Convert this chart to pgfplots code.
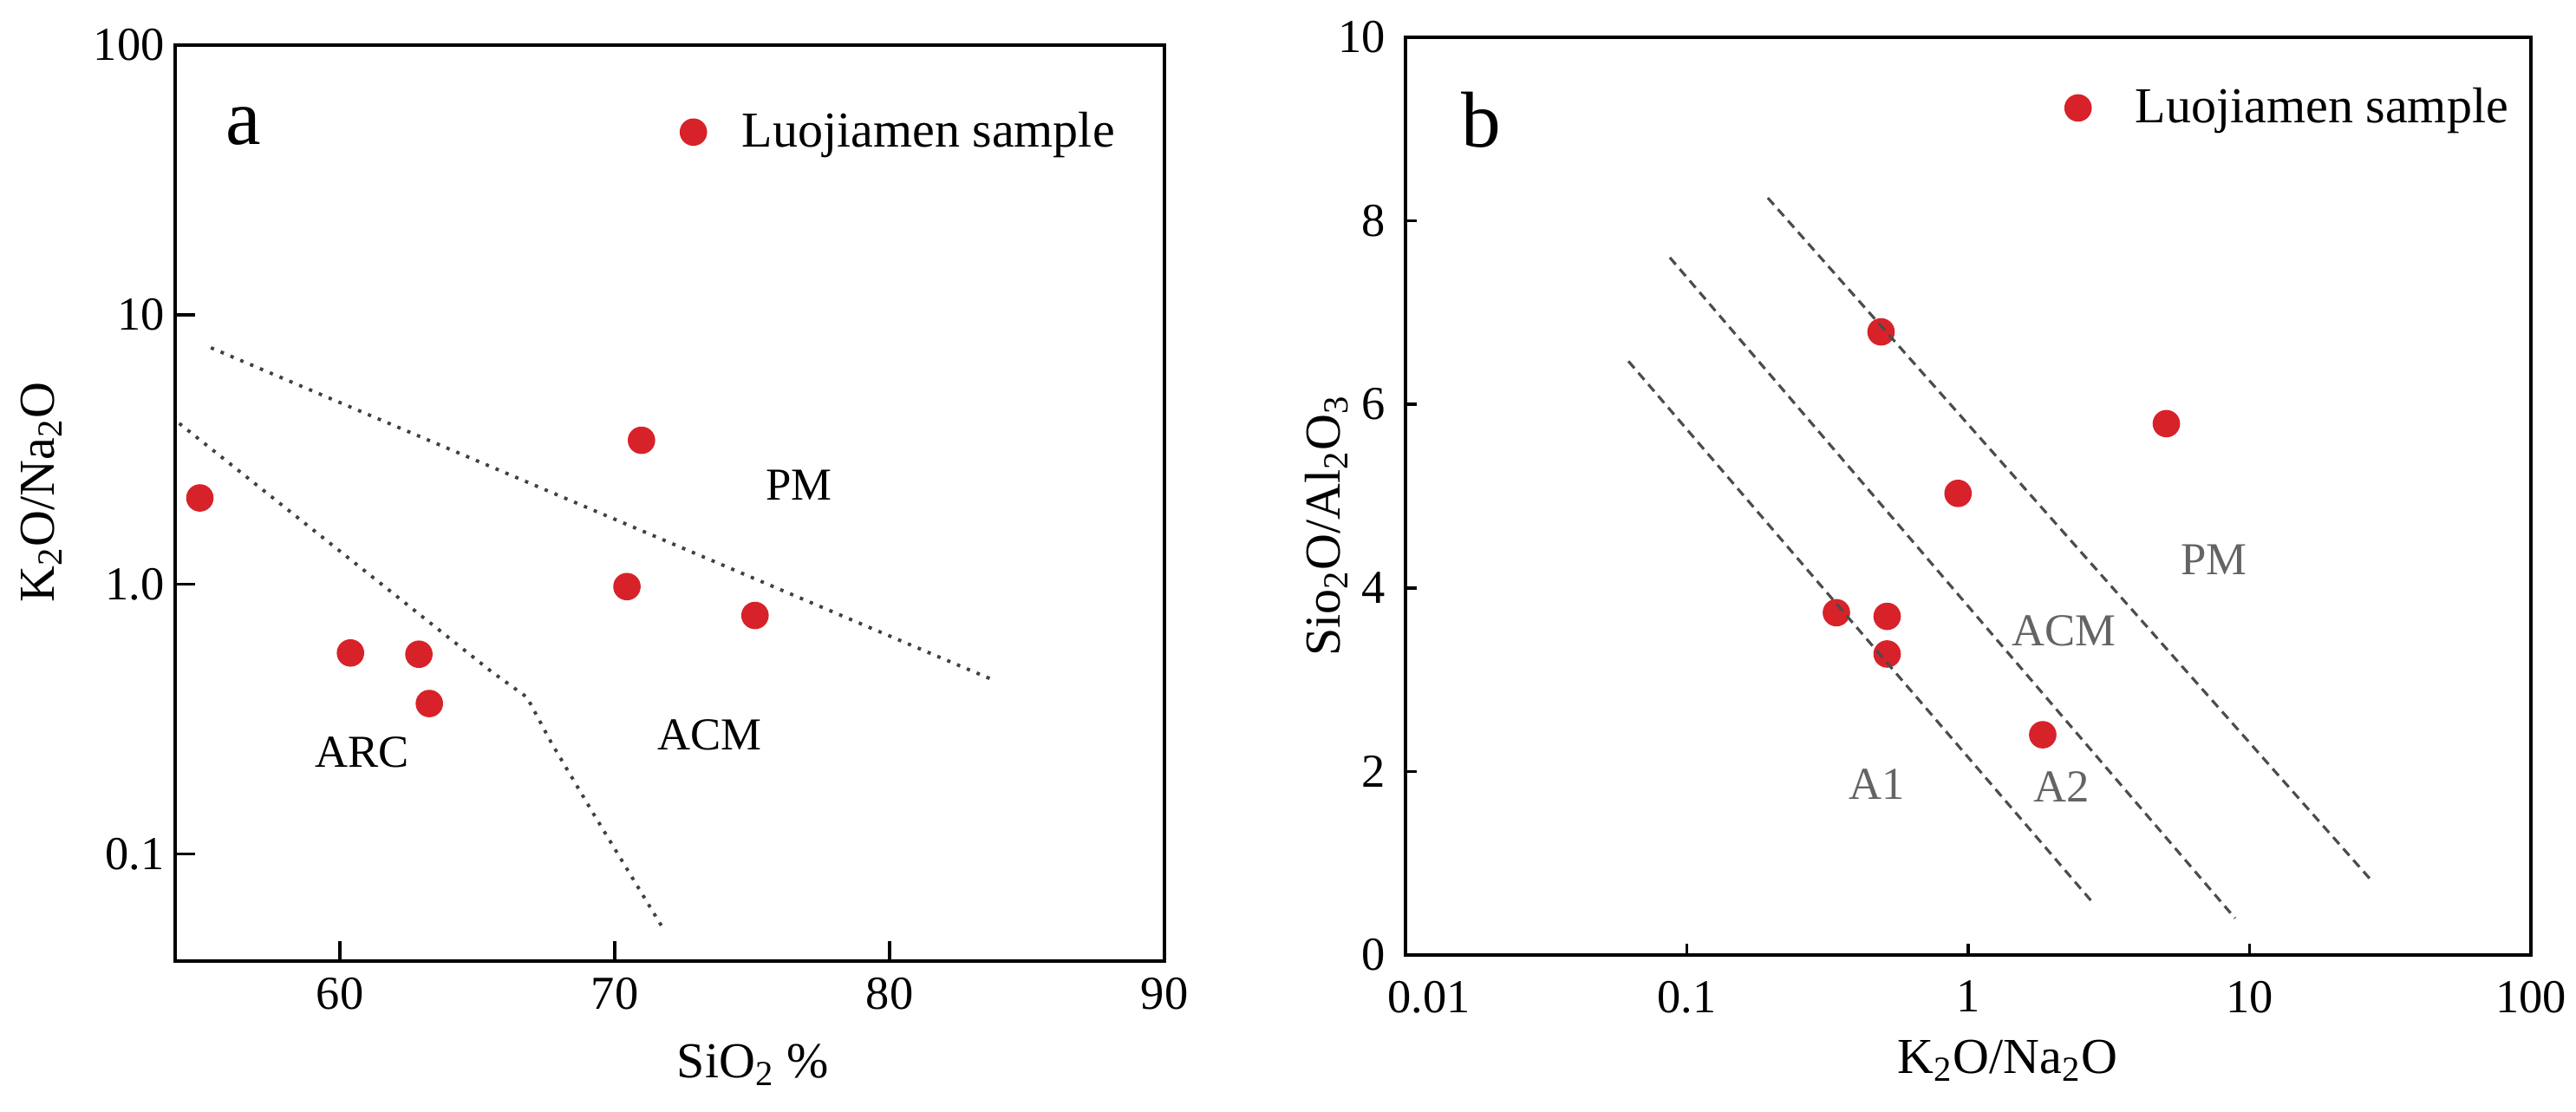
\documentclass[border=0pt]{standalone}
\usepackage{fontspec}
\setmainfont{Liberation Serif}
\usepackage{pgfplots}
\pgfplotsset{compat=1.18}

\definecolor{samplered}{RGB}{216,34,42}
\definecolor{zonegray}{RGB}{100,100,100}
\newcommand{\sub}[1]{\textsubscript{#1}}

\tikzset{zone/.style={font=\fontsize{15}{18}\selectfont}}

\pgfplotsset{
  panel/.style={
    scale only axis, clip mode=individual,
    axis line style={line width=1.2pt},
    tick style={line width=1pt, black},
    tick align=inside, xtick pos=bottom, ytick pos=left,
    xminorticks=false, yminorticks=false,
    tick label style={font=\fontsize{15.5}{18}\selectfont},
    label style={font=\fontsize{16.5}{20}\selectfont},
    /pgf/number format/assume math mode=true,
    legend style={draw=none, fill=none, inner sep=0pt,
      nodes={inner sep=0pt}, font=\fontsize{16.5}{20}\selectfont},
    legend image code/.code={\draw[##1] plot coordinates {(0cm,0cm)};},
  },
  sampmark/.style={only marks, mark=*, mark size=4.3pt,
    mark options={fill=samplered, draw=samplered}},
}

\begin{document}
\begin{tikzpicture}
\useasboundingbox (0,0) rectangle (29.71cm,12.82cm);

% (a) SiO2 vs K2O/Na2O
\begin{axis}[panel, at={(2.02cm,1.74cm)}, anchor=south west,
  width=11.41cm, height=10.56cm,
  xmin=54, xmax=90, ymode=log, ymin=0.04, ymax=100,
  xtick={60,70,80,90}, ytick={0.1,1,10,100}, yticklabels={0.1,1.0,10,100},
  major tick length=0.23cm,
  x tick label style={yshift=-2pt},
  xlabel={SiO\sub{2} \%}, ylabel={K\sub{2}O/Na\sub{2}O},
  xlabel style={at={(axis description cs:0.584,-0.113)}, anchor=center},
  ylabel style={at={(axis description cs:-0.135,0.512)}, anchor=center},
  legend style={at={(axis description cs:0.510,0.905)}, anchor=west, column sep=0.41cm},
]
\addplot[sampmark] coordinates {
  (54.9,2.09) (70.97,3.42) (70.44,0.98) (75.1,0.766)
  (60.38,0.556) (62.87,0.55) (63.25,0.361)};
\addlegendentry{Luojiamen sample}
\addplot[forget plot, black!75, line width=1.1pt, dash pattern=on 1.1pt off 2.4pt]
  coordinates {(55.3,7.54) (83.8,0.44)};
\addplot[forget plot, black!75, line width=1.1pt, dash pattern=on 1.1pt off 2.4pt]
  coordinates {(54.15,3.95) (65.5,0.475) (66.8,0.381) (67.7,0.257) (69.2,0.142) (71.7,0.054)};
\node[font=\fontsize{26}{30}\selectfont] at (axis cs:56.5,50) {a};
\node[zone] at (axis cs:76.7,2.34) {PM};
\node[zone] at (axis cs:73.45,0.277) {ACM};
\node[zone] at (axis cs:60.8,0.238) {ARC};
\end{axis}

% (b) K2O/Na2O vs SiO2/Al2O3
\begin{axis}[panel, at={(16.21cm,1.81cm)}, anchor=south west,
  width=12.98cm, height=10.58cm,
  xmode=log, xmin=0.01, xmax=100, ymin=0, ymax=10,
  xtick={0.01,0.1,1,10,100}, xticklabels={\hphantom{00}0.01,0.1,1,10,100},
  ytick={0,2,4,6,8,10},
  major tick length=0.13cm,
  x tick label style={yshift=-5pt},
  xlabel={K\sub{2}O/Na\sub{2}O}, ylabel={Sio\sub{2}O/Al\sub{2}O\sub{3}},
  xlabel style={at={(axis description cs:0.535,-0.115)}, anchor=center},
  ylabel style={at={(axis description cs:-0.070,0.468)}, anchor=center},
  y tick label style={xshift=-3pt},
  legend style={at={(axis description cs:0.5854,0.923)}, anchor=west, column sep=0.51cm},
]
\addplot[sampmark] coordinates {
  (0.49,6.79) (5.06,5.79) (0.92,5.03) (0.34,3.73)
  (0.515,3.69) (0.515,3.28) (1.84,2.40)};
\addlegendentry{Luojiamen sample}
\addplot[forget plot, black!70, line width=0.9pt, dash pattern=on 3pt off 2pt]
  coordinates {(0.062,6.47) (2.79,0.56)};
\addplot[forget plot, black!70, line width=0.9pt, dash pattern=on 3pt off 2pt]
  coordinates {(0.087,7.60) (8.88,0.40)};
\addplot[forget plot, black!70, line width=0.9pt, dash pattern=on 3pt off 2pt]
  coordinates {(0.194,8.25) (27.5,0.79)};
\node[font=\fontsize{26}{30}\selectfont] at (axis cs:0.0186,9.1) {b};
\node[zone, zonegray] at (axis cs:7.47,4.31) {PM};
\node[zone, zonegray] at (axis cs:2.19,3.53) {ACM};
\node[zone, zonegray] at (axis cs:0.475,1.86) {A1};
\node[zone, zonegray] at (axis cs:2.14,1.83) {A2};
\end{axis}
\end{tikzpicture}
\end{document}
